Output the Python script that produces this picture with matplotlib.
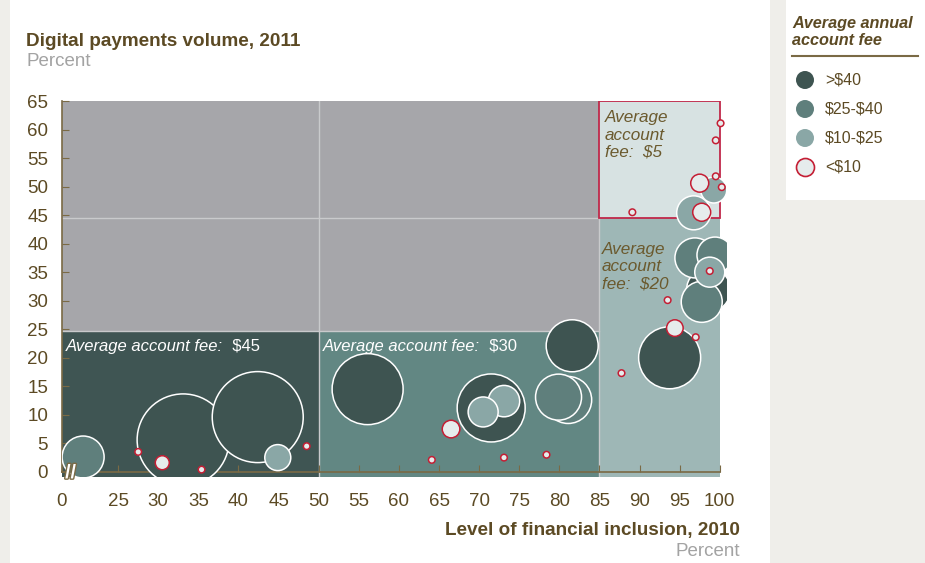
import numpy as np
import matplotlib
matplotlib.use("Agg")
import matplotlib.pyplot as plt
from matplotlib.patches import Rectangle
import matplotlib.patheffects as pe

plt.rcParams['font.family'] = ['Liberation Sans', 'DejaVu Sans']
plt.rcParams['text.parse_math'] = False

# bubbles: x = financial inclusion, y = digital payments, r = bubble radius (px)
inclusion = [9.4, 33.1, 42.4, 44.9, 27.5, 30.5, 35.4, 48.5,
             56.1, 71.5, 73.1, 70.5, 66.5, 64.1, 73.1, 78.4, 81.6, 79.9, 81.1,
             93.75, 94.4, 97.0, 87.75, 93.5,
             96.9, 99.4, 98.75, 98.75, 97.75, 98.6,
             96.75, 99.25, 97.5, 97.75, 99.5, 100.25, 100.1, 99.5, 89.1]
payments = [2.6, 5.6, 9.6, 2.5, 3.5, 1.6, 0.4, 4.5,
            14.5, 11.2, 12.4, 10.5, 7.5, 2.1, 2.5, 3.0, 22.1, 13.1, 12.6,
            20.0, 25.2, 23.6, 17.3, 30.1,
            37.5, 38.0, 35.0, 35.2, 29.8, 31.9,
            45.4, 49.4, 50.6, 45.5, 51.8, 49.9, 61.1, 58.1, 45.5]
radius = [21, 46, 45.5, 13, 3.3, 7, 3.3, 3.3,
          35.5, 34, 15.7, 15, 8.8, 3.3, 3.3, 3.3, 26, 23, 23.5,
          31, 8.3, 3.3, 3.3, 3.3,
          20, 18, 15, 3.3, 20.5, 22,
          17, 13, 9, 9, 3.3, 3.3, 3.3, 3.3, 3.3]
fee_group = ['25-40', '>40', '>40', '10-25', '<10', '<10', '<10', '<10',
             '>40', '>40', '10-25', '10-25', '<10', '<10', '<10', '<10', '>40', '25-40', '25-40',
             '>40', '<10', '<10', '<10', '<10',
             '25-40', '25-40', '10-25', '<10', '25-40', '>40',
             '10-25', '10-25', '<10', '<10', '<10', '<10', '<10', '<10', '<10']

legend_keys = ['>40', '25-40', '10-25', '<10']
legend_labels = ['>$40', '$25-$40', '$10-$25', '<$10']

# background zones (inclusion range, payments range)
zone_x = [(0, 50), (50, 85), (85, 100), (85, 100)]
zone_y = [(-1, 24.7), (-1, 24.7), (-1, 44.5), (44.5, 65)]

fill = {'>40': '#3e5451', '25-40': '#5f7f7c', '10-25': '#8aa7a6', '<10': '#e6ecec'}
edge = {'>40': 'white', '25-40': 'white', '10-25': 'white', '<10': '#c41e34'}
zone_col = ['#3f5553', '#628783', '#9eb7b6', '#d7e2e2']
brown = '#5c4a24'
axis_c = '#7a6a45'


def fwd(x):
    x = np.asarray(x, float)
    return np.where(x < 25, x * 0.28, x - 18)


def inv(u):
    u = np.asarray(u, float)
    return np.where(u < 7, u / 0.28, u + 18)


fig = plt.figure(figsize=(9.25, 5.63), dpi=100, facecolor='#efeeea')
fig.patches.append(Rectangle((10 / 925, 0), 760 / 925, 1, transform=fig.transFigure,
                             fc='white', ec='none', zorder=-10))
fig.patches.append(Rectangle((786 / 925, 1 - 200 / 563), 139 / 925, 200 / 563,
                             transform=fig.transFigure, fc='white', ec='none', zorder=-10))

ax = fig.add_axes([62 / 925, 86 / 563, 665 / 925, 376 / 563])
ax.set_xscale('function', functions=(fwd, inv))
ax.set_xlim(0, 100.9)
ax.set_ylim(-0.9, 65)
ax.patch.set_alpha(0)

# grey upper area + zones
ax.add_patch(Rectangle((0, 24.7), 85, 40.3, fc='#a6a6aa', ec='none', zorder=0))
for (x0, x1), (y0, y1), c in zip(zone_x, zone_y, zone_col):
    ax.add_patch(Rectangle((x0, y0), x1 - x0, y1 - y0, fc=c, ec='none', zorder=0))
ax.add_patch(Rectangle((85, 44.5), 15, 20.5, fc='none', ec='#c0284a', lw=1.3, zorder=1))
grid_c = '#c9cacc'
ax.plot([0, 85], [44.5, 44.5], color=grid_c, lw=1, zorder=0.5)
ax.plot([0, 85], [24.7, 24.7], color=grid_c, lw=1, zorder=0.5)
ax.plot([50, 50], [-1, 65], color=grid_c, lw=1, zorder=0.5)
ax.plot([85, 85], [-1, 44.5], color=grid_c, lw=1, zorder=0.5)

# bubbles, largest first so small ones stay on top
order = np.argsort(-np.array(radius), kind='stable')
xs = np.array(inclusion)[order]
ys = np.array(payments)[order]
rs = np.array(radius)[order]
gs = [fee_group[i] for i in order]
ax.scatter(xs, ys, s=(2 * rs * 0.72) ** 2, c=[fill[g] for g in gs],
           edgecolors=[edge[g] for g in gs], linewidths=1.1, zorder=3)

# zone captions
ax.text(1.8, 23.3, 'Average account fee:', color='white', style='italic', fontsize=12, va='top')
t = ax.texts[-1]
ax.annotate('  $45', xy=(1, 0), xycoords=t, color='white', fontsize=12, va='bottom')
ax.text(50.5, 23.3, 'Average account fee:', color='white', style='italic', fontsize=12, va='top')
t = ax.texts[-1]
ax.annotate('  $30', xy=(1, 0), xycoords=t, color='white', fontsize=12, va='bottom')
ax.text(85.7, 63.4, 'Average\naccount\nfee:  $5', color='#6b5a2e', style='italic',
        fontsize=12.3, va='top')
ax.text(85.3, 40.3, 'Average\naccount\nfee:  $20', color='#6b5a2e', style='italic',
        fontsize=12.3, va='top')

# axes styling
for s in ['top', 'right']:
    ax.spines[s].set_visible(False)
ax.spines['bottom'].set_position(('data', 0))
ax.spines['bottom'].set_bounds(0, 100)
ax.spines['left'].set_bounds(0, 65)
for s in ['bottom', 'left']:
    ax.spines[s].set_color(axis_c)
    ax.spines[s].set_linewidth(1.2)
ax.set_xticks([0] + list(range(25, 101, 5)))
ax.set_yticks(range(0, 66, 5))
ax.tick_params(axis='x', direction='in', length=5, color=axis_c, pad=15,
               labelsize=13.5, labelcolor=brown)
ax.tick_params(axis='y', direction='in', length=5, color=axis_c, pad=10,
               labelsize=13.5, labelcolor=brown)
ax.text(3.8, -0.3, '//', color='white', fontsize=14, fontweight='bold', ha='center', va='center',
        zorder=4, path_effects=[pe.withStroke(linewidth=2, foreground=axis_c)])

fig.text(26 / 925, 1 - 41 / 563, 'Digital payments volume, 2011', color=brown,
         fontsize=13.6, fontweight='bold', va='center')
fig.text(26 / 925, 1 - 61 / 563, 'Percent', color='#a3a3a3', fontsize=13.5, va='center')
fig.text(740 / 925, 1 - 531 / 563, 'Level of financial inclusion, 2010', color=brown,
         fontsize=13.6, fontweight='bold', va='center', ha='right')
fig.text(740 / 925, 1 - 552 / 563, 'Percent', color='#a3a3a3', fontsize=13.5, va='center', ha='right')

# legend
fig.text(792 / 925, 1 - 32 / 563, 'Average annual\naccount fee', color=brown, fontsize=11.7,
         fontweight='bold', style='italic', va='center', linespacing=1.2)
fig.add_artist(plt.Line2D([792 / 925, 918 / 925], [1 - 56 / 563] * 2, color=axis_c, lw=1.5))
lax = fig.add_axes([0, 0, 1, 1])
lax.set_xlim(0, 925)
lax.set_ylim(563, 0)
lax.axis('off')
for i, (k, lab) in enumerate(zip(legend_keys, legend_labels)):
    yy = 80 + i * 29
    lax.scatter([805], [yy], s=(2 * 9 * 0.72) ** 2, c=fill[k],
                edgecolors=edge[k] if k == '<10' else 'none', linewidths=1.2)
    lax.text(825, yy, lab, color=brown, fontsize=11.5, va='center')

fig.savefig('out.png', dpi=100, facecolor=fig.get_facecolor())
